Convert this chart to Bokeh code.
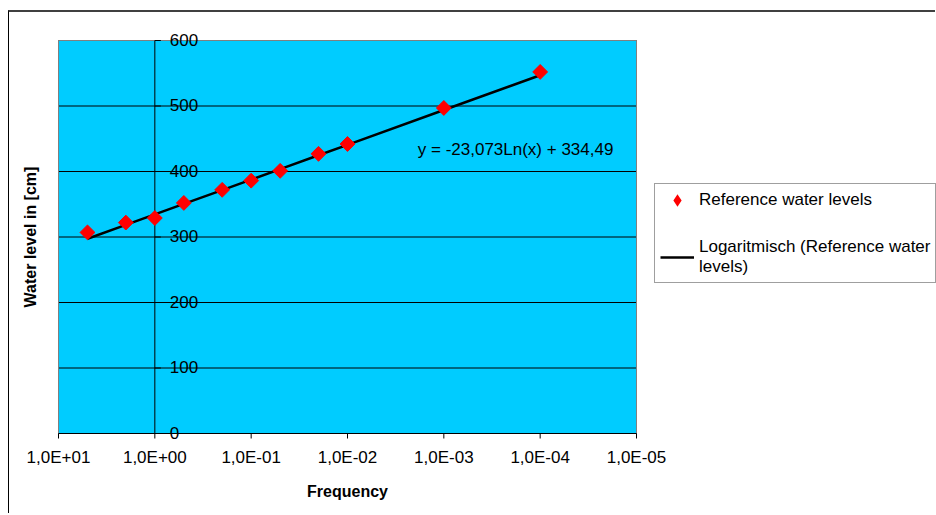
import math
from bokeh.plotting import figure
from bokeh.models import Range1d, Legend, LegendItem
from bokeh.core.properties import value
from bokeh.embed import file_html
from bokeh.resources import INLINE

# ---- data ----
frequency = [5, 2, 1, 0.5, 0.2, 0.1, 0.05, 0.02, 0.01, 0.001, 0.0001]
water_level = [307, 322, 329, 352, 372, 386, 401, 427, 442, 497, 552]
trend_a = -23.073
trend_b = 334.49
trend_text = "y = -23,073Ln(x) + 334,49"
x_ticks = [10, 1, 0.1, 0.01, 0.001, 0.0001, 0.00001]
x_tick_labels = ["1,0E+01", "1,0E+00", "1,0E-01", "1,0E-02", "1,0E-03", "1,0E-04", "1,0E-05"]
y_ticks = [0, 100, 200, 300, 400, 500, 600]
y_tick_labels = ["0", "100", "200", "300", "400", "500", "600"]
x_title = "Frequency"
y_title = "Water level in [cm]"
series_name = "Reference water levels"
trend_name = "Logaritmisch (Reference water\nlevels)"
trend_level = [trend_a * math.log(f) + trend_b for f in frequency]

FONT = value("Liberation Sans")

# ---- layout (canvas pixels) ----
W, H = 927, 503
PL, PR, PT, PB = 49, 627, 28, 421          # plot area edges inside the canvas
dec = (PR - PL) / math.log10(x_ticks[0] / x_ticks[-1])
x_start = x_ticks[0] * 10 ** (PL / dec)
x_end = x_ticks[-1] / 10 ** ((W - PR) / dec)
ppu = (PB - PT) / (y_ticks[-1] - y_ticks[0])
y_top = y_ticks[-1] + PT / ppu
y_bot = y_ticks[0] - (H - PB) / ppu

p = figure(width=W, height=H, x_axis_type="log",
           x_range=Range1d(x_start, x_end), y_range=Range1d(y_bot, y_top),
           output_backend="svg", toolbar_location=None,
           x_axis_location=None, y_axis_location=None,
           min_border=0, min_border_left=0, min_border_right=0,
           min_border_top=0, min_border_bottom=0)
p.margin = (10, 0, 0, 8)
p.styles = {"border-top": "2px solid #404040", "border-left": "1px solid #000000"}
p.background_fill_color = "white"
p.border_fill_color = "white"
p.outline_line_color = None
p.grid.visible = False

x0, x1 = x_ticks[0], x_ticks[-1]
y0, y1 = y_ticks[0], y_ticks[-1]

# plot area
p.quad(left=[x0], right=[x1], bottom=[y0], top=[y1], fill_color="#00CCFF", line_color=None)
# horizontal gridlines
p.segment(x0=[x0] * len(y_ticks), x1=[x1] * len(y_ticks), y0=y_ticks, y1=y_ticks,
          line_color="#000000", line_width=1)
# plot area border
p.quad(left=[x0], right=[x1], bottom=[y0], top=[y1], fill_color=None,
       line_color="#808080", line_width=1)
# x axis line + ticks
p.segment(x0=[x0], x1=[x1], y0=[y0], y1=[y0], line_color="#000000", line_width=1)
p.ray(x=x_ticks, y=[y0] * len(x_ticks), length=5, length_units="screen",
      angle=-math.pi / 2, line_color="#000000", line_width=1)
# y axis line crossing at x = 1
p.segment(x0=[1], x1=[1], y0=[y0], y1=[y1], line_color="#000000", line_width=1)
p.ray(x=[1] * len(y_ticks), y=y_ticks, length=6, length_units="screen",
      angle=0, line_color="#000000", line_width=1)

# tick labels
p.text(x=x_ticks, y=[y0] * len(x_ticks), text=x_tick_labels, y_offset=24,
       text_align="center", text_baseline="middle", text_font=FONT,
       text_font_size="17px", text_color="#000000")
p.text(x=[1] * len(y_ticks), y=y_ticks, text=y_tick_labels, x_offset=15, y_offset=-1,
       text_align="left", text_baseline="middle", text_font=FONT,
       text_font_size="17px", text_color="#000000")
# axis titles
p.text(x=[math.sqrt(x0 * x1)], y=[y0], text=[x_title], y_offset=58,
       text_align="center", text_baseline="middle", text_font=FONT,
       text_font_size="16px", text_font_style="bold", text_color="#000000")
p.text(x=[x0], y=[(y0 + y1) / 2], text=[y_title], x_offset=-28, angle=math.pi / 2,
       text_align="center", text_baseline="middle", text_font=FONT,
       text_font_size="16px", text_font_style="bold", text_color="#000000")

# data
trend = p.line(frequency, trend_level, line_color="#000000", line_width=2.5)
# legend swatch (diamond) for the point series, hidden under the first point
swatch = p.scatter(x=frequency[:1], y=water_level[:1], marker="diamond", size=4,
                   fill_color="#FF0000", line_color="#FF0000", line_width=2,
                   line_join="miter")
pts = p.scatter(frequency, water_level, marker="square", angle=math.pi / 4, size=10.5,
                fill_color="#FF0000", line_color="#FF0000")

# trendline equation
p.text(x=[0.00018], y=[433], text=[trend_text], text_align="center",
       text_baseline="middle", text_font=FONT, text_font_size="17px", text_color="#000000")

legend = Legend(items=[LegendItem(label=series_name, renderers=[swatch]),
                       LegendItem(label=trend_name, renderers=[trend])],
                location=(645, 232))
legend.label_text_font = "Liberation Sans"
legend.label_text_font_size = "17px"
legend.label_text_color = "#000000"
legend.border_line_color = "#404040"
legend.border_line_width = 1
legend.background_fill_color = "white"
legend.glyph_width = 34
legend.glyph_height = 22
legend.label_standoff = 5
legend.padding = 5
legend.spacing = 26
legend.margin = 0
legend.label_height = 20
p.add_layout(legend, "center")

open("out.html", "w").write(file_html(p, INLINE))
